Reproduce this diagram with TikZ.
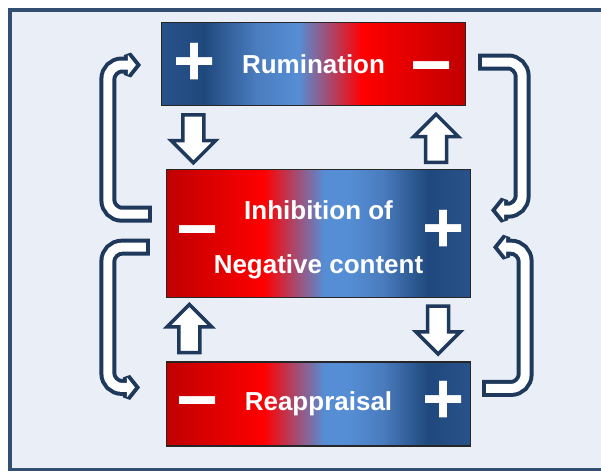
\documentclass[tikz,border=0pt]{standalone}
\usepackage{fontspec}
\setmainfont{Liberation Sans}
\usepackage{xcolor}
\usepackage{tikz}
\usetikzlibrary{shapes.arrows, positioning, calc}

\definecolor{framecol}{RGB}{50,78,112}
\definecolor{bgcol}{RGB}{233,238,247}
\definecolor{arrowcol}{RGB}{31,57,92}
\definecolor{edgeblue}{RGB}{40,82,138}
\definecolor{darkblue}{RGB}{31,73,125}
\definecolor{midblue}{RGB}{74,124,190}
\definecolor{lightblue}{RGB}{85,142,213}
\definecolor{brightred}{RGB}{255,0,0}
\definecolor{darkred}{RGB}{192,0,0}

\pgfdeclarehorizontalshading{posneg}{100bp}{color(0bp)=(edgeblue); color(25bp)=(edgeblue); color(32bp)=(darkblue); color(40.5bp)=(midblue); color(47.5bp)=(lightblue); color(58bp)=(brightred); color(75bp)=(darkred); color(100bp)=(darkred)}
\pgfdeclarehorizontalshading{negpos}{100bp}{color(0bp)=(darkred); color(25bp)=(darkred); color(41bp)=(brightred); color(51bp)=(lightblue); color(55bp)=(lightblue); color(60.5bp)=(midblue); color(68bp)=(darkblue); color(75bp)=(edgeblue); color(100bp)=(edgeblue)}

\begin{document}
\begin{tikzpicture}[
  x=1pt, y=-1pt,
  node distance=63pt,
  stage/.style={rectangle, draw=black!85, line width=1.2pt, minimum width=304pt, text=white, font=\fontsize{26}{54}\selectfont\bfseries, align=center, inner sep=0pt},
  sign/.style={text=white, font=\fontsize{72}{72}\selectfont\bfseries, inner sep=0pt, anchor=base},
  blockarrow/.style={single arrow, draw=arrowcol, line width=3.5pt, fill=white, inner sep=8.75pt, single arrow head extend=11.75pt, minimum height=48pt},
  loopout/.style={draw=arrowcol, line width=17pt, rounded corners=14pt},
  loopin/.style={draw=white, line width=9pt, rounded corners=14pt, shorten <=4pt, shorten >=-1pt},
  headout/.pic={\filldraw[arrowcol, line width=8pt, line join=miter, miter limit=2] (0,0) -- (-8,-10) -- (-8,10) -- cycle;},
  headin/.pic={\fill[white] (0,0) -- (-8,-10) -- (-8,10) -- cycle;}
]
\useasboundingbox (0,0) rectangle (601,471);

% Panel
\draw[framecol, line width=3.5pt, fill=bgcol] (10,10) rectangle (614,469.5);

% Stages
\node (rum) [stage, shading=posneg, minimum height=83pt] at (313.5,64) {Rumination};
\node (inh) [stage, shading=negpos, minimum height=128pt, below=63pt of rum, xshift=5pt, text height=79pt, text depth=0pt] {Inhibition of\\Negative content};
\node (rea) [stage, shading=negpos, minimum height=84pt, below=63pt of inh] {Reappraisal};

% Signs
\node (rumplus) [sign] at ([xshift=34pt, yshift=-21.4pt]rum.west) {+};
\node (rumminus) [sign] at ([xshift=-34.5pt, yshift=-25.3pt]rum.east) {−};
\node (inhminus) [sign] at ([xshift=31.5pt, yshift=-19.8pt]inh.west) {−};
\node (inhplus) [sign] at ([xshift=-27.5pt, yshift=-18.9pt]inh.east) {+};
\node (reaminus) [sign] at ([xshift=31.5pt, yshift=-20.8pt]rea.west) {−};
\node (reaplus) [sign] at ([xshift=-28pt, yshift=-19.9pt]rea.east) {+};

% Straight arrows
\node (dn1) [blockarrow, shape border rotate=270, below=7pt of rum.south west, anchor=tail, xshift=32.5pt] {};
\node (up1) [blockarrow, shape border rotate=90, above=5pt of inh.north east, anchor=tail, xshift=-35pt] {};
\node (up2) [blockarrow, shape border rotate=90, above=7pt of rea.north west, anchor=tail, xshift=23.5pt] {};
\node (dn2) [blockarrow, shape border rotate=270, below=6pt of inh.south east, anchor=tail, xshift=-33pt] {};

% Loop arrows
\coordinate (lutail) at ($(inh.west)+(-14,-19.5)$);
\coordinate (lutip) at ($(rum.west)+(-25,1)$);
\coordinate (lltail) at ($(inh.west)+(-16,13.5)$);
\coordinate (lltip) at ($(rea.west)+(-31,-16.5)$);
\coordinate (rutail) at ($(rum.east)+(12,-2)$);
\coordinate (rutip) at ($(inh.east)+(25,-23.5)$);
\coordinate (rltail) at ($(rea.east)+(11,-15.5)$);
\coordinate (rltip) at ($(inh.east)+(27,13.5)$);

\foreach \t/\dx/\h/\b/\r in {lutail/-44/lutip/-8/0, lltail/-42/lltip/-8/0, rutail/44/rutip/8/180, rltail/43/rltip/8/180} {
  \draw[loopout] (\t) -- ++(\dx,0) |- ($(\h)+(\b,0)$);
  \pic[rotate=\r] at (\h) {headout};
  \draw[loopin] (\t) -- ++(\dx,0) |- ($(\h)+(\b,0)$);
  \pic[rotate=\r] at (\h) {headin};
}
\end{tikzpicture}
\end{document}
